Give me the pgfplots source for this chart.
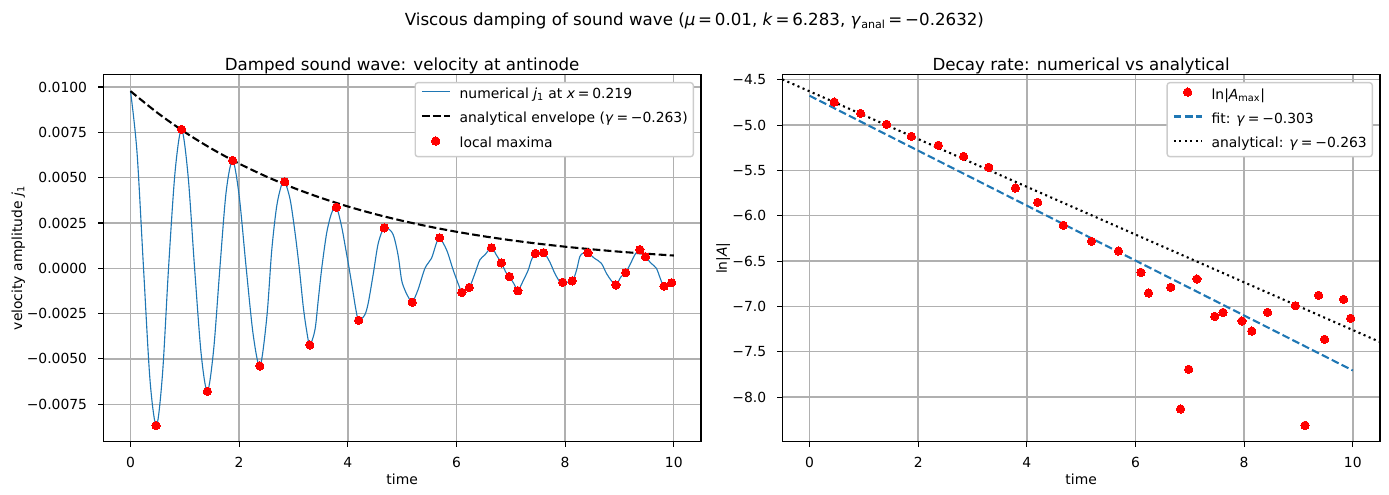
\documentclass[border=0pt]{standalone}
\usepackage{fontspec}
\setmainfont{DejaVu Sans}
\usepackage{pgfplots}
\pgfplotsset{compat=1.18}
\definecolor{C0}{HTML}{1F77B4}
\definecolor{gridgray}{HTML}{B0B0B0}
\definecolor{legframe}{HTML}{CCCCCC}
\newcommand{\eq}{\hspace{2pt}=\hspace{2pt}}

\pgfplotsset{
  mpl/.style={
    scale only axis, width=430.3pt, height=264.7pt, anchor=south west,
    xmin=-0.5, xmax=10.5,
    xtick={0,2,4,6,8,10},
    xtick pos=bottom, ytick pos=left,
    scaled ticks=false,
    tick align=outside, major tick length=3.5pt,
    every tick/.style={black, line width=0.8pt},
    axis line style={line width=0.8pt},
    grid=major, major grid style={gridgray, line width=1pt},
    tick label style={font=\fontsize{10}{12}\selectfont},
    /pgf/number format/assume math mode=true,
    xticklabel style={inner sep=0pt, anchor=north, yshift=-7.5pt},
    yticklabel style={inner sep=0pt, anchor=east, xshift=-8pt},
    label style={font=\fontsize{10}{12}\selectfont, inner sep=0pt},
    xlabel style={at={([yshift=-30.5pt]axis description cs:0.5,0)}, anchor=base},
    every axis title/.style={at={(axis description cs:0.5,1)}, anchor=base, yshift=3pt, inner sep=0pt, font=\fontsize{12}{14}\selectfont},
    legend style={at={([xshift=-5pt,yshift=-5.5pt]axis description cs:1,1)}, anchor=north east,
      draw=legframe, line width=1pt, rounded corners=2pt, fill=white,
      font=\fontsize{10}{12}\selectfont, inner xsep=4pt, inner ysep=3.8pt, row sep=7.6pt,
      nodes={inner sep=0pt, text height=7.5pt, text depth=2.5pt},
      /tikz/every odd column/.append style={column sep=6.5pt}},
    legend cell align=left,
    legend image code/.code={\draw[#1] (0pt,2.5pt) -- (20pt,2.5pt);},
  },
  markleg/.style={legend image code/.code={\draw[#1] plot coordinates {(10pt,2.5pt)};}},
}

\begin{document}
\begin{tikzpicture}
\path (0,0) rectangle (1000.1pt,356.4pt);
\node[anchor=base, inner sep=0pt, font=\fontsize{12}{14}\selectfont] at (500pt,337.7pt)
  {Viscous damping of sound wave (\textit{μ}\eq 0.01, \textit{k}\eq 6.283, \textit{γ}\textsubscript{anal}\eq −0.2632)};

\begin{axis}[mpl, at={(74.4pt,38.2pt)},
  y filter/.expression={1000*y},
  ymin=-9.579, ymax=10.699,
  ytick={-7.5,-5,-2.5,0,2.5,5,7.5,10},
  yticklabels={−0.0075,−0.0050,−0.0025,0.0000,0.0025,0.0050,0.0075,0.0100},
  title={Damped sound wave: velocity at antinode},
  xlabel={time},
  ylabel={velocity amplitude \textit{j}\textsubscript{1}},
  ylabel style={at={([xshift=-58.5pt]axis description cs:0,0.5)}, anchor=base, rotate=0},
]
\addplot[C0, line width=0.8pt, smooth, tension=0.5] coordinates {
(0.00,0.00978) (0.12,0.0064) (0.24,0.0) (0.36,-0.0062) (0.478,-0.00868)
(0.59,-0.0058) (0.70,0.0) (0.82,0.0053) (0.94,0.00766)
(1.06,0.0051) (1.18,0.0) (1.30,-0.0047) (1.415,-0.00679)
(1.53,-0.0045) (1.645,0.0) (1.76,0.0042) (1.88,0.00595)
(2.00,0.0040) (2.13,0.0) (2.26,-0.0037) (2.385,-0.00539)
(2.51,-0.00267) (2.60,0.0010) (2.69,0.0034) (2.78,0.0046) (2.84,0.00477)
(2.94,0.00377) (3.03,0.00193) (3.107,0.0) (3.18,-0.00212) (3.24,-0.0034) (3.30,-0.00423)
(3.395,-0.0034) (3.456,-0.00175) (3.52,0.0) (3.61,0.00193) (3.70,0.00303) (3.79,0.00337)
(3.886,0.0023) (3.965,0.0010) (4.03,-0.0001) (4.09,-0.0012) (4.15,-0.0023) (4.20,-0.00287)
(4.31,-0.00258) (4.375,-0.00193) (4.47,-0.00028) (4.56,0.00138) (4.67,0.00223)
(4.805,0.00202) (4.865,0.00156) (4.93,0.00064) (4.99,-0.00065) (5.05,-0.0012) (5.11,-0.00157) (5.185,-0.00187)
(5.29,-0.0012) (5.42,0.0) (5.54,0.00055) (5.63,0.00138) (5.69,0.00168)
(5.82,0.0010) (5.94,-0.0001) (6.05,-0.0010) (6.10,-0.00133) (6.235,-0.00106)
(6.34,-0.00028) (6.43,0.00046) (6.52,0.00073) (6.645,0.00113)
(6.735,0.00073) (6.825,0.000294) (6.92,-0.00028) (6.975,-0.000456) (7.07,-0.00092) (7.13,-0.00124)
(7.22,-0.00074) (7.32,-0.0001) (7.38,0.00046) (7.45,0.00082) (7.605,0.000855)
(7.715,0.00036) (7.81,-0.00028) (7.90,-0.00074) (7.955,-0.000777) (8.13,-0.000695)
(8.21,-0.0001) (8.27,0.00064) (8.33,0.00083) (8.42,0.000855)
(8.54,0.00055) (8.665,0.00028) (8.76,-0.00028) (8.85,-0.00068) (8.935,-0.000919)
(9.03,-0.00046) (9.115,-0.000246) (9.22,0.00036) (9.28,0.00073) (9.375,0.00103)
(9.48,0.000636) (9.58,0.00028) (9.68,0.0) (9.75,-0.00055) (9.82,-0.000987) (9.96,-0.0008) (10.0,-0.00074)
};
\addlegendentry{numerical \textit{j}\textsubscript{1} at \textit{x}\eq 0.219}
\addplot[black, line width=1.5pt, dash pattern=on 5.55pt off 2.4pt, smooth] coordinates {
(0,0.00977) (0.5,0.008565) (1.0,0.007509) (1.5,0.006583) (2.0,0.005772) (2.5,0.00506)
(3.0,0.004436) (3.5,0.003889) (4.0,0.00341) (4.5,0.00299) (5.0,0.002621) (5.5,0.002298)
(6.0,0.002014) (6.5,0.001766) (7.0,0.001548) (7.5,0.001358) (8.0,0.00119) (8.5,0.001044)
(9.0,0.000915) (9.5,0.000802) (10.0,0.000703)
};
\addlegendentry{analytical envelope (\textit{γ}\eq −0.263)}
\addplot[only marks, mark=*, mark size=3pt, color=red, mark options={fill=red, draw=red, line width=0pt}, markleg] coordinates {
(0.47,-0.00868) (0.94,0.00766) (1.415,-0.00679) (1.88,0.00595) (2.38,-0.00539)
(2.84,0.00477) (3.30,-0.00423) (3.79,0.00337) (4.20,-0.00287) (4.67,0.00223)
(5.185,-0.00187) (5.69,0.00168) (6.10,-0.00133) (6.235,-0.00106) (6.645,0.00113)
(6.825,0.000294) (6.975,-0.000456) (7.13,-0.00124) (7.45,0.000818) (7.605,0.000855)
(7.955,-0.000777) (8.13,-0.000695) (8.42,0.000855) (8.935,-0.000919) (9.115,-0.000246)
(9.375,0.00103) (9.48,0.000636) (9.82,-0.000987) (9.96,-0.0008)
};
\addlegendentry{local maxima}
\end{axis}

\begin{axis}[mpl, at={(563.3pt,38.2pt)},
  ymin=-8.494, ymax=-4.44,
  ytick={-8,-7.5,-7,-6.5,-6,-5.5,-5,-4.5},
  yticklabels={−8.0,−7.5,−7.0,−6.5,−6.0,−5.5,−5.0,−4.5},
  title={Decay rate: numerical vs analytical},
  xlabel={time},
  ylabel={ln|\textit{A}|},
  ylabel style={at={([xshift=-40pt]axis description cs:0,0.5)}, anchor=base, rotate=0},
]
\addplot[only marks, mark=*, mark size=3pt, color=red, mark options={fill=red, draw=red, line width=0pt}, markleg] coordinates {
(0.455,-4.746) (0.94,-4.871) (1.418,-4.992) (1.873,-5.124) (2.37,-5.223)
(2.836,-5.345) (3.30,-5.466) (3.79,-5.694) (4.20,-5.852) (4.67,-6.105)
(5.19,-6.282) (5.685,-6.389) (6.10,-6.624) (6.24,-6.852) (6.65,-6.789)
(6.83,-8.131) (6.98,-7.693) (7.13,-6.697) (7.46,-7.109) (7.61,-7.065)
(7.96,-7.160) (8.14,-7.271) (8.43,-7.065) (8.94,-6.992) (9.12,-8.311)
(9.37,-6.877) (9.48,-7.362) (9.83,-6.921) (9.96,-7.131)
};
\addlegendentry{ln|\textit{A}\textsubscript{max}|}
\addplot[C0, line width=1.5pt, dash pattern=on 5.55pt off 2.4pt] coordinates {(0,-4.676) (10,-7.706)};
\addlegendentry{fit: \textit{γ}\eq −0.303}
\addplot[black, line width=1.5pt, dash pattern=on 1.5pt off 2.475pt] coordinates {(-0.5,-4.496) (10.5,-7.392)};
\addlegendentry{analytical: \textit{γ}\eq −0.263}
\end{axis}
\end{tikzpicture}
\end{document}
